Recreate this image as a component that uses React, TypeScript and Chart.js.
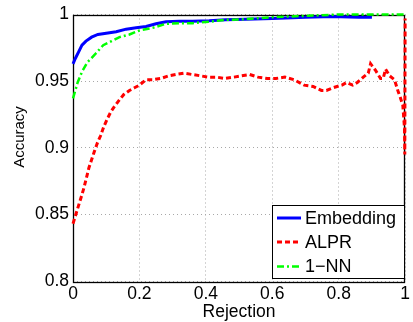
import React, { useEffect, useRef } from "react";
import { Chart, registerables } from "chart.js";
Chart.register(...registerables);

const xTicks = [0, 0.2, 0.4, 0.6, 0.8, 1];
const yTicks = [0.8, 0.85, 0.9, 0.95, 1];
const xTitle = "Rejection";
const yTitle = "Accuracy";

const embeddingRej = [0, 0.007, 0.017, 0.027, 0.039, 0.056, 0.075, 0.1, 0.13, 0.16, 0.19, 0.22, 0.25, 0.28, 0.32, 0.36, 0.41, 0.46, 0.52, 0.6, 0.7, 0.78, 0.86, 0.9];
const embeddingAcc = [0.963, 0.967, 0.972, 0.977, 0.98, 0.983, 0.985, 0.986, 0.987, 0.989, 0.99, 0.991, 0.993, 0.9945, 0.995, 0.995, 0.9953, 0.996, 0.9965, 0.997, 0.998, 0.9985, 0.998, 0.998];

const alprRej = [0, 0.016, 0.026, 0.033, 0.041, 0.048, 0.056, 0.064, 0.074, 0.083, 0.093, 0.104, 0.114, 0.125, 0.14, 0.153, 0.17, 0.185, 0.2, 0.219, 0.239, 0.264, 0.289, 0.309, 0.333, 0.358, 0.383, 0.408, 0.432, 0.457, 0.485, 0.507, 0.532, 0.557, 0.585, 0.611, 0.638, 0.666, 0.696, 0.723, 0.748, 0.763, 0.783, 0.795, 0.81, 0.824, 0.842, 0.856, 0.874, 0.889, 0.896, 0.911, 0.926, 0.934, 0.941, 0.953, 0.968, 0.978, 0.985, 0.993, 0.995, 0.998, 0.999, 1.0];
const alprAcc = [0.843, 0.856, 0.864, 0.87, 0.878, 0.885, 0.891, 0.897, 0.904, 0.909, 0.916, 0.922, 0.927, 0.931, 0.936, 0.94, 0.943, 0.945, 0.947, 0.951, 0.951, 0.952, 0.954, 0.955, 0.956, 0.955, 0.954, 0.953, 0.953, 0.952, 0.953, 0.954, 0.955, 0.953, 0.952, 0.952, 0.953, 0.951, 0.947, 0.946, 0.943, 0.943, 0.945, 0.946, 0.947, 0.949, 0.947, 0.949, 0.953, 0.956, 0.963, 0.958, 0.952, 0.952, 0.959, 0.954, 0.951, 0.943, 0.938, 0.932, 0.925, 0.915, 0.895, 0.997];

const nnRej = [0, 0.007, 0.014, 0.027, 0.043, 0.066, 0.091, 0.116, 0.14, 0.17, 0.2, 0.24, 0.28, 0.32, 0.36, 0.41, 0.46, 0.52, 0.6, 0.7, 0.8, 0.9, 1.0];
const nnAcc = [0.937, 0.943, 0.949, 0.957, 0.964, 0.97, 0.977, 0.98, 0.983, 0.985, 0.988, 0.99, 0.993, 0.9935, 0.9935, 0.9946, 0.996, 0.9965, 0.998, 0.999, 1.0, 1.0, 1.0];

const FONT = "'Liberation Sans', Arial, sans-serif";

const toPts = (xs: number[], ys: number[]) => xs.map((x, i) => ({ x, y: ys[i] }));

const framePlugin = {
  id: "frame",
  beforeDatasetsDraw(chart: any) {
    const { ctx, chartArea: a } = chart;
    ctx.save();
    ctx.strokeStyle = "#000";
    ctx.lineWidth = 1.3;
    ctx.strokeRect(Math.round(a.left) + 0.5, Math.round(a.top) + 0.5, Math.round(a.right - a.left) - 1, Math.round(a.bottom - a.top));
    ctx.restore();
  },
  afterDraw(chart: any) {
    const { ctx, chartArea: a } = chart;
    ctx.save();
    // axis titles
    ctx.fillStyle = "#000";
    ctx.font = `17.5px ${FONT}`;
    ctx.textAlign = "center";
    ctx.textBaseline = "alphabetic";
    ctx.fillText(xTitle, (a.left + a.right) / 2, 317);
    ctx.save();
    ctx.translate(24, 137);
    ctx.rotate(-Math.PI / 2);
    ctx.font = `15px ${FONT}`;
    ctx.fillText(yTitle, 0, 0);
    ctx.restore();
    // legend
    const bx = 272, by = 205, bw = 132, bh = 73;
    ctx.fillStyle = "#fff";
    ctx.fillRect(bx, by, bw, bh);
    ctx.strokeStyle = "#000";
    ctx.lineWidth = 1;
    ctx.strokeRect(bx + 0.5, by + 0.5, bw, bh);
    const rows = [218, 242, 266.5];
    chart.data.datasets.forEach((ds: any, i: number) => {
      const y = rows[i];
      ctx.save();
      ctx.strokeStyle = ds.borderColor;
      ctx.lineWidth = ds.borderWidth;
      ctx.setLineDash(ds.borderDash || []);
      ctx.beginPath();
      ctx.moveTo(277, y);
      ctx.lineTo(301, y);
      ctx.stroke();
      ctx.restore();
      ctx.fillStyle = "#000";
      ctx.font = `18px ${FONT}`;
      ctx.textAlign = "left";
      ctx.textBaseline = "middle";
      ctx.fillText(ds.label, 305, y + 1);
    });
    ctx.restore();
  },
};

export default function App() {
  const ref = useRef<HTMLCanvasElement>(null);
  useEffect(() => {
    const chart = new Chart(ref.current!, {
      type: "line",
      data: {
        datasets: [
          { label: "Embedding", data: toPts(embeddingRej, embeddingAcc), borderColor: "#0000ff", borderWidth: 3, pointRadius: 0, tension: 0, clip: false, order: 3 } as any,
          { label: "ALPR", data: toPts(alprRej, alprAcc), borderColor: "#ff0000", borderWidth: 3, borderDash: [5, 3], pointRadius: 0, tension: 0, clip: false, order: 2 } as any,
          { label: "1\u2212NN", data: toPts(nnRej, nnAcc), borderColor: "#00ff00", borderWidth: 2.5, borderDash: [7, 3, 2, 3], pointRadius: 0, tension: 0, clip: false, order: 1 } as any,
        ],
      },
      options: {
        responsive: false,
        animation: false,
        layout: { padding: { top: 12, right: 4, left: 0, bottom: 0 } },
        plugins: { legend: { display: false }, tooltip: { enabled: false } },
        scales: {
          x: {
            type: "linear",
            min: 0,
            max: 1,
            afterBuildTicks: (s: any) => { s.ticks = xTicks.map((v) => ({ value: v })); },
            afterFit: (s: any) => { s.height = 41; },
            ticks: { callback: (v: any) => String(v), font: { family: FONT, size: 17.5 }, color: "#000", padding: 3, maxRotation: 0, autoSkip: false },
            grid: { color: "#a8a8a8", drawTicks: false, lineWidth: 1 },
            border: { display: false, dash: [1, 3] },
          },
          y: {
            type: "linear",
            min: 0.8,
            max: 1,
            afterBuildTicks: (s: any) => { s.ticks = yTicks.map((v) => ({ value: v })); },
            afterFit: (s: any) => { s.width = 73; },
            ticks: { callback: (v: any) => String(v), font: { family: FONT, size: 17.5 }, color: "#000", padding: 4, autoSkip: false },
            grid: { color: "#a8a8a8", drawTicks: false, lineWidth: 1 },
            border: { display: false, dash: [1, 3] },
          },
        },
      },
      plugins: [framePlugin],
    });
    return () => chart.destroy();
  }, []);
  return (
    <div style={{ position: "fixed", left: 0, top: 0, width: 413, height: 322, background: "#fff" }}>
      <canvas ref={ref} width={413} height={322} style={{ display: "block" }} />
    </div>
  );
}
